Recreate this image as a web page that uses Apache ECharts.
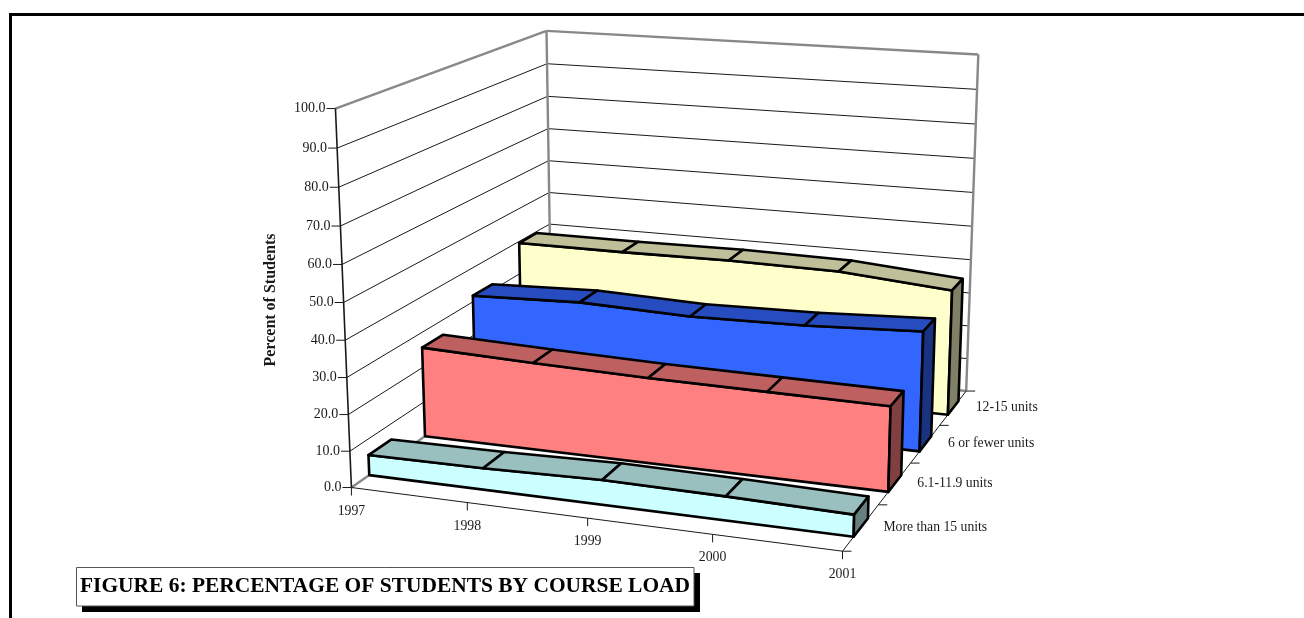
<!DOCTYPE html>
<html><head><meta charset="utf-8"><style>html,body{margin:0;padding:0;background:#fff}#c{width:1304px;height:618px}</style>
<script src="https://cdn.jsdelivr.net/npm/echarts@6/dist/echarts.min.js"></script></head><body><div id="c"></div>
<script>
// ---- data ----
const years=['1997','1998','1999','2000','2001'];
const depthLabels=['More than 15 units','6.1-11.9 units','6 or fewer units','12-15 units'];
const yTicks=[0,10,20,30,40,50,60,70,80,90,100];
const moreThan15=[5.6,5.9,6.7,6.4,5.8];
const units6to12=[25.7,24.7,23.9,23.6,23.3];
const sixOrFewer=[31.8,32.9,31.9,32.5,34.0];
const units12to15=[39.5,39.5,39.8,39.4,36.8];
const titleText='FIGURE 6: PERCENTAGE OF STUDENTS BY COURSE LOAD';
const yAxisName='Percent of Students';

// ---- camera: unit box corners (u,v,w) seen at screen (x,y) ----
const anchors=[[0,0,0,351,485.7],[1,0,0,842.7,552.7],[1,0,1,966,389.3],[0,0,1,552,350],[0,1,0,335.7,109],[1,1,1,978.3,55],[0,1,1,546.3,30]];
function solve(A,b){const n=b.length;const M=A.map((r,i)=>r.concat(b[i]));for(let i=0;i<n;i++){let p=i;for(let r=i+1;r<n;r++)if(Math.abs(M[r][i])>Math.abs(M[p][i]))p=r;[M[i],M[p]]=[M[p],M[i]];for(let r=0;r<n;r++){if(r===i)continue;const f=M[r][i]/M[i][i];for(let c=i;c<=n;c++)M[r][c]-=f*M[i][c];}}return M.map((r,i)=>r[n]/r[i]);}
const R=[],Y=[];anchors.forEach(([u,v,w,x,y])=>{R.push([u,v,w,1,0,0,0,0,-x*u,-x*v,-x*w]);Y.push(x);R.push([0,0,0,0,u,v,w,1,-y*u,-y*v,-y*w]);Y.push(y);});
const N=Array.from({length:11},(_,i)=>Array.from({length:11},(_,j)=>R.reduce((s,r)=>s+r[i]*r[j],0)));
const T=Array.from({length:11},(_,i)=>R.reduce((s,r,k)=>s+r[i]*Y[k],0));
const H=solve(N,T);
function P(u,v,w){const d=1+H[8]*u+H[9]*v+H[10]*w;return [(H[0]*u+H[1]*v+H[2]*w+H[3])/d,(H[4]*u+H[5]*v+H[6]*w+H[7])/d];}

const W=1304,Ht=618,FONT='"Liberation Serif"';
// library scales -> unit box
function uv(api,i,val){const c=api.coord([i,val]);return [c[0]/W,(Ht-c[1])/Ht];}
const line=(a,b,stroke,lw)=>({type:'line',silent:true,shape:{x1:a[0],y1:a[1],x2:b[0],y2:b[1]},style:{stroke,lineWidth:lw}});
const text=(t,x,y,align,size)=>({type:'text',silent:true,style:{text:t,x,y,align,verticalAlign:'middle',fontFamily:FONT,fontSize:size||14,fill:'#1a1a1a'}});

function wallItem(params,api){
  const t=api.value(1),[,v]=uv(api,0,t);const [,v0]=uv(api,0,0),[,v1]=uv(api,0,100);
  const edge=(t===0||t===100),col=edge?'#888':'#1a1a1a',lw=edge?2.4:1;
  const ch=[line(P(0,v,0),P(0,v,1),col,lw),line(P(0,v,1),P(1,v,1),col,lw)];
  const a=P(0,v,0);
  ch.push(line([a[0]-9,a[1]],a,'#1a1a1a',1));
  ch.push(text(t.toFixed(1),a[0]-10,a[1],'right'));
  if(t===100){
    ch.push(line(P(0,v0,1),P(0,v1,1),'#888',2.4));
    ch.push(line(P(1,v0,1),P(1,v1,1),'#888',2.4));
    ch.push(line(P(0,v0,0),P(0,v1,0),'#1a1a1a',1.6));
  }
  return {type:'group',children:ch};
}
function xTickItem(params,api){
  const i=api.value(0),[u,v]=uv(api,i,0),a=P(u,v,0);
  const ch=[line(a,[a[0],a[1]+8],'#1a1a1a',1),text(years[i],a[0],a[1]+23.5,'center',13.8)];
  if(i===0){const [u1]=uv(api,years.length-1,0);ch.push(line(a,P(u1,v,0),'#1a1a1a',1));}
  if(i===years.length-1){ch.push(line(a,P(u,v,1),'#1a1a1a',1));}
  return {type:'group',children:ch};
}
function zTickItem(params,api){
  const k=api.value(0),[u,v]=uv(api,years.length-1,0),n=depthLabels.length;
  const ch=[];
  for(const z of (k===0?[0,1]:[1])){const a=P(u,v,(k+z)/n);ch.push(line(a,[a[0]+9,a[1]],'#1a1a1a',1));}
  const m=P(u,v,(k+.5)/n);
  ch.push(text(depthLabels[k],m[0]+22.5,m[1],'left',13.7));
  return {type:'group',children:ch};
}
const GAP_F=0.3,GAP_B=0.3;
function areaItem(band,values,cols){
  const n=depthLabels.length,w0=(band+GAP_F)/n,w1=(band+1-GAP_B)/n,lw=2.6;
  return function(params,api){
    const i=api.value(0),[u,v]=uv(api,i,api.value(1)),ch=[];
    const st=(fill)=>({fill,stroke:'#000',lineWidth:lw,lineJoin:'round'});
    if(i===0){
      const top=values.map((val,j)=>{const [a,b]=uv(api,j,val);return P(a,b,w0);});
      const [ua,vb]=uv(api,0,0),[ub]=uv(api,values.length-1,0);
      ch.push({type:'polygon',silent:true,shape:{points:top.concat([P(ub,vb,w0),P(ua,vb,w0)])},style:st(cols[0])});
    }
    if(i<values.length-1){
      const [u2,v2]=uv(api,i+1,values[i+1]);
      ch.push({type:'polygon',silent:true,shape:{points:[P(u,v,w0),P(u2,v2,w0),P(u2,v2,w1),P(u,v,w1)]},style:st(cols[1])});
    }else{
      const [,vz]=uv(api,i,0);
      ch.push({type:'polygon',silent:true,shape:{points:[P(u,v,w0),P(u,v,w1),P(u,vz,w1),P(u,vz,w0)]},style:st(cols[2])});
    }
    return {type:'group',children:ch};
  };
}
const pairs=a=>a.map((v,i)=>[i,v]);
const base={type:'custom',coordinateSystem:'cartesian2d',animation:false,clip:false,silent:true};
const option={
  animation:false,backgroundColor:'#fff',
  grid:{left:0,right:0,top:0,bottom:0,containLabel:false,show:false},
  xAxis:{type:'category',data:years,boundaryGap:false,show:false},
  yAxis:{type:'value',min:0,max:100,show:false},
  title:{text:titleText,left:80,top:574,padding:0,textStyle:{fontFamily:FONT,fontWeight:'bold',fontSize:21.45,color:'#000',lineHeight:25}},
  graphic:[
    {type:'line',silent:true,shape:{x1:9,y1:14.5,x2:1304,y2:14.5},style:{stroke:'#000',lineWidth:3}},
    {type:'line',silent:true,shape:{x1:10.5,y1:13,x2:10.5,y2:618},style:{stroke:'#000',lineWidth:3}},
    {type:'rect',silent:true,shape:{x:82,y:573,width:618,height:39},style:{fill:'#000'}},
    {type:'rect',silent:true,shape:{x:76.5,y:567.5,width:617.5,height:38.5},style:{fill:'#fff',stroke:'#555',lineWidth:1}},
    {type:'text',silent:true,x:271,y:300,rotation:Math.PI/2,style:{text:yAxisName,align:'center',verticalAlign:'middle',fontFamily:FONT,fontWeight:'bold',fontSize:16,fill:'#1a1a1a'}}
  ],
  series:[
    {...base,name:'walls',renderItem:wallItem,data:yTicks.map(t=>[0,t])},
    {...base,name:'years',renderItem:xTickItem,data:years.map((y,i)=>[i,0])},
    {...base,name:'depth',renderItem:zTickItem,data:depthLabels.map((d,i)=>[i,0])},
    {...base,name:depthLabels[3],renderItem:areaItem(3,units12to15,['#FFFFCC','#BFBF99','#808066']),data:pairs(units12to15)},
    {...base,name:depthLabels[2],renderItem:areaItem(2,sixOrFewer,['#3366FF','#264CBF','#193380']),data:pairs(sixOrFewer)},
    {...base,name:depthLabels[1],renderItem:areaItem(1,units6to12,['#FF8080','#BF6060','#804040']),data:pairs(units6to12)},
    {...base,name:depthLabels[0],renderItem:areaItem(0,moreThan15,['#CCFFFF','#99BFBF','#668080']),data:pairs(moreThan15)}
  ]
};
echarts.init(document.getElementById('c')).setOption(option);
</script></body></html>
